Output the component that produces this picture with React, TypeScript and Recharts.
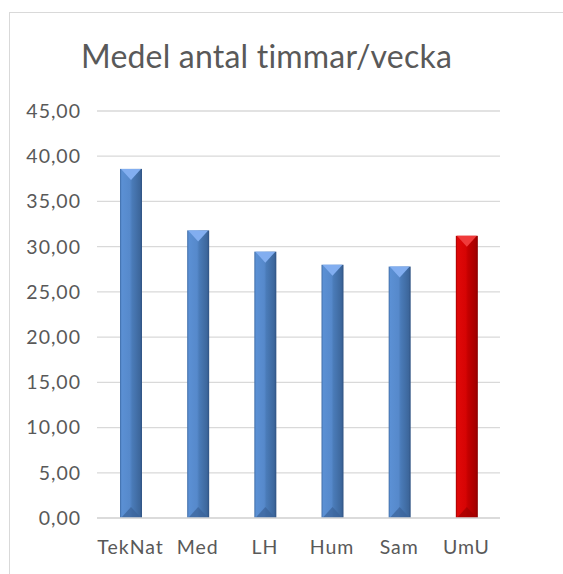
import * as React from "react";
import { BarChart, Bar, XAxis, YAxis, CartesianGrid, Cell } from "recharts";

const categories = ["TekNat", "Med", "LH", "Hum", "Sam", "UmU"];
const hours = [38.6, 31.8, 29.45, 28.0, 27.8, 31.2];
const yTicks = [0, 5, 10, 15, 20, 25, 30, 35, 40, 45];

const BLUE = "#4f81bd";
const RED = "#cc0000";
const TEXT = "#595959";
const GRID = "#d9d9d9";
const FONT = "Lato, 'Open Sans', sans-serif";

// Excel-ish bevel: light stripe left, dark stripe right, light cap on top
const palettes: Record<string, { stops: string[]; cap: string; foot: string }> = {
  [BLUE]: {
    stops: ["#3f6ca6", "#5b90d4", "#5689cb", "#4a7bb8", "#3d679c", "#2f5282"],
    cap: "#82aef0",
    foot: "#3a6398",
  },
  [RED]: {
    stops: ["#a00000", "#e00808", "#d60404", "#c40000", "#a60000", "#880000"],
    cap: "#f03a3a",
    foot: "#a00000",
  },
};

function BevelBar(props: any) {
  const { x, y, width, height, fill, index } = props;
  if (height <= 0) return null;
  const p = palettes[fill] ?? palettes[BLUE];
  const id = `bevel-${index}`;
  const cap = Math.min(11, height / 2);
  return (
    <g>
      <defs>
        <linearGradient id={id} x1="0" y1="0" x2="1" y2="0">
          <stop offset="0" stopColor={p.stops[0]} />
          <stop offset="0.08" stopColor={p.stops[1]} />
          <stop offset="0.45" stopColor={p.stops[2]} />
          <stop offset="0.55" stopColor={p.stops[3]} />
          <stop offset="0.9" stopColor={p.stops[4]} />
          <stop offset="1" stopColor={p.stops[5]} />
        </linearGradient>
      </defs>
      <rect x={x} y={y} width={width} height={height} fill={`url(#${id})`} />
      <polygon
        points={`${x + 1},${y} ${x + width - 1},${y} ${x + width / 2},${y + cap}`}
        fill={p.cap}
      />
      <polygon
        points={`${x + 1},${y + height} ${x + width - 1},${y + height} ${x + width / 2},${y + height - cap}`}
        fill={p.foot}
        opacity={0.7}
      />
    </g>
  );
}

const fmt = (v: number) => v.toFixed(2).replace(".", ",");

export default function App() {
  const data = categories.map((name, i) => ({ name, hours: hours[i] }));
  const tickStyle = { fontSize: 19.5, fill: TEXT, fontFamily: FONT, letterSpacing: 1 };

  return (
    <div
      style={{
        position: "absolute",
        left: 0,
        top: 0,
        width: 563,
        height: 574,
        overflow: "hidden",
        background: "#fff",
        fontFamily: FONT,
      }}
    >
      {/* chart frame, runs off the right and bottom edges */}
      <div
        style={{
          position: "absolute",
          left: 9,
          top: 12,
          width: 700,
          height: 700,
          border: `1px solid ${GRID}`,
        }}
      />
      <div
        style={{
          position: "absolute",
          left: 0,
          width: 533,
          top: 36,
          textAlign: "center",
          fontSize: 32,
          letterSpacing: 0.2,
          color: TEXT,
          lineHeight: "40px",
        }}
      >
        Medel antal timmar/vecka
      </div>
      <div style={{ position: "absolute", left: 0, top: 0 }}>
        <BarChart
          width={563}
          height={574}
          data={data}
          margin={{ top: 111, right: 63, left: 0, bottom: 0 }}
        >
          <CartesianGrid stroke={GRID} strokeWidth={1.3} vertical={false} />
          <XAxis
            dataKey="name"
            height={56}
            tickLine={false}
            axisLine={{ stroke: GRID, strokeWidth: 1.3 }}
            tickSize={0}
            tickMargin={22}
            interval={0}
            tick={tickStyle}
          />
          <YAxis
            width={97}
            domain={[0, 45]}
            ticks={yTicks}
            tickFormatter={fmt}
            tickLine={false}
            axisLine={false}
            tickSize={0}
            tickMargin={16}
            interval={0}
            tick={tickStyle}
          />
          <Bar dataKey="hours" barSize={22} shape={<BevelBar />} isAnimationActive={false}>
            {data.map((d, i) => (
              <Cell key={d.name} fill={i === data.length - 1 ? RED : BLUE} />
            ))}
          </Bar>
        </BarChart>
      </div>
    </div>
  );
}
